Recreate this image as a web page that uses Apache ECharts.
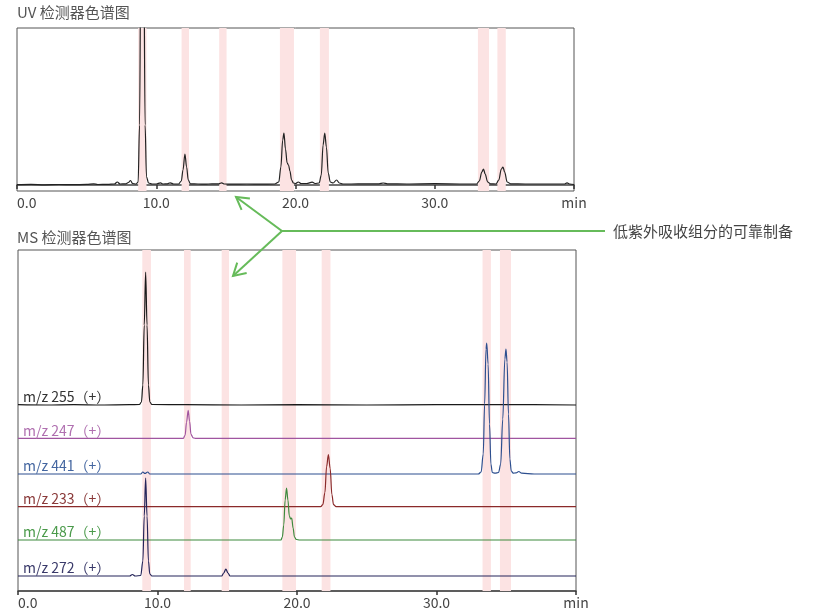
<!DOCTYPE html>
<html><head><meta charset="utf-8">
<script src="https://cdn.jsdelivr.net/npm/echarts@6/dist/echarts.min.js"></script>
<style>html,body{margin:0;padding:0;background:#fff}#c{width:820px;height:614px}</style>
</head><body><div id="c"></div>
<script>
// ---------- data ----------
const xMin = 0, xMax = 40, xInterval = 10;
const uvTitle = 'UV 检测器色谱图';
const msTitle = 'MS 检测器色谱图';
const noteText = '低紫外吸收组分的可靠制备';

// UV trace [min, intensity]
const uvTrace = [[0,0.3],[1,0.6],[2,0.2],[3,0.5],[4,0.3],[5,0.6],[5.5,1.2],[5.8,0.5],[6.5,0.6],[7.0,1],[7.2,3],[7.4,1],[7.8,1.2],[8.0,2.5],[8.15,4.5],[8.3,1.5],[8.55,1],[8.7,3],[8.8,60],[8.9,250],[9.0,420],[9.1,250],[9.2,60],[9.3,8],[9.45,2],[9.7,1],[10.0,1],[10.3,2.2],[10.5,1],[10.8,1.2],[11.0,2.2],[11.25,1],[11.6,1],[11.8,4],[11.92,15],[12.06,31],[12.18,18],[12.3,5],[12.45,1.2],[13,1],[13.5,0.8],[14,1.2],[14.5,1.2],[14.7,2.2],[14.9,1],[15.5,0.8],[16.5,1],[17.5,0.8],[18.5,1],[18.8,3],[18.95,18],[19.08,45],[19.17,52],[19.28,36],[19.4,22],[19.5,20],[19.6,14],[19.72,5],[19.85,2],[20.0,1.5],[20.2,3],[20.4,1.5],[20.8,1.5],[21.2,2.8],[21.4,1.5],[21.7,2],[21.85,10],[21.98,40],[22.1,52],[22.22,38],[22.35,12],[22.5,3],[22.7,2],[22.95,5],[23.15,2],[23.4,1],[24,1],[25,1.2],[26.0,1.2],[26.3,2],[26.6,1.2],[28,1],[30,1.3],[32,1],[33.0,1],[33.2,4],[33.38,13],[33.5,16],[33.62,11],[33.8,3],[34.0,1.2],[34.4,1],[34.6,5],[34.78,16],[34.9,18],[35.02,13],[35.2,3],[35.45,1.2],[36.5,1],[38,1],[39.3,1],[39.5,2.2],[39.7,1],[40,0.5]];

// highlighted fraction windows [start, end] in min
const uvBands = [[8.7,9.3],[11.82,12.35],[14.52,15.05],[18.88,19.89],[21.75,22.4],[33.1,33.9],[34.5,35.1]];
const msBands = [[8.91,9.53],[11.9,12.38],[14.6,15.13],[18.95,19.93],[21.77,22.4],[33.3,33.9],[34.55,35.34]];

// MS extracted ion traces
const msLabels = ['m/z 255（+）','m/z 247（+）','m/z 441（+）','m/z 233（+）','m/z 487（+）','m/z 272（+）'];
const ms255 = [[0,0.3],[2,0],[4,0.4],[6,0],[8,0.3],[8.7,0.5],[8.85,3],[8.95,20],[9.05,80],[9.15,133],[9.25,80],[9.35,20],[9.45,3],[9.6,0.5],[12,0.3],[16,0],[20,0.3],[25,0],[30,0.3],[35,0.5],[40,0]];
const ms247 = [[0,0],[11.85,0],[11.98,3],[12.08,16],[12.2,28],[12.3,17],[12.4,4],[12.55,0.5],[12.7,0],[40,0]];
const ms441 = [[0,0],[8.8,0],[8.95,2],[9.1,0.5],[9.3,2],[9.45,0],[33.0,0],[33.2,2],[33.35,20],[33.45,70],[33.55,125],[33.6,131],[33.7,110],[33.8,50],[33.9,10],[34.0,1.5],[34.2,0.8],[34.45,1.5],[34.6,10],[34.75,55],[34.9,115],[34.98,125],[35.06,112],[35.16,60],[35.26,15],[35.36,3],[35.5,0.8],[35.7,1.2],[35.9,2.5],[36.1,0.8],[37,0],[40,0]];
const ms233 = [[0,0],[21.7,0],[21.85,2],[22.0,14],[22.12,40],[22.25,52],[22.38,38],[22.5,12],[22.62,2],[22.8,0],[40,0]];
const ms487 = [[0,0],[18.85,0],[18.95,3],[19.05,15],[19.15,40],[19.25,52],[19.35,40],[19.45,24],[19.55,21],[19.62,22],[19.72,12],[19.82,3],[19.95,0.5],[20.2,0],[40,0]];
const ms272 = [[0,0],[8.0,0],[8.2,1.5],[8.4,0],[8.8,0.5],[8.95,15],[9.05,60],[9.15,98],[9.25,60],[9.35,15],[9.45,2],[9.6,0],[14.6,0],[14.75,3],[14.9,7],[15.05,3],[15.2,0],[40,0]];

// ---------- layout / style ----------
const msTraces = [ms255, ms247, ms441, ms233, ms487, ms272];
const msOffsets = [186, 152.7, 117, 84.3, 51, 15];
const msLineColors = ['#1a1a1a','#a055a0','#2d4f8f','#8b2a2a','#3d8a3d','#25255a'];
const msTextColors = ['#333333','#b070b0','#4466a0','#8a3a3a','#4a9a4a','#3a3a6a'];
const FONT = '"Noto Sans CJK SC","Noto Sans",sans-serif';
const bandColor = '#fce3e3';
const green = '#66bb5a';

const chart = echarts.init(document.getElementById('c'));

function xAxisCfg(gi){
  return {
    type:'value', gridIndex:gi, min:xMin, max:xMax, interval:xInterval,
    axisLine:{show:true, lineStyle:{color:'#444', width:1.5}},
    axisTick:{show:true, length:4, lineStyle:{color:'#333', width:1.5}},
    splitLine:{show:false},
    axisLabel:{color:'#444', fontSize:14, fontFamily:FONT, margin:5,
      alignMinLabel:'left',
      formatter:v => v === xMax ? 'min' : v.toFixed(1)}
  };
}
function yAxisCfg(gi,min,max){
  return {type:'value', gridIndex:gi, min:min, max:max, show:false, splitLine:{show:false}};
}
function bandSeries(gi, bands){
  return {type:'line', xAxisIndex:gi, yAxisIndex:gi, data:[], silent:true, z:1,
    markArea:{silent:true, itemStyle:{color:bandColor},
      data:bands.map(b=>[{xAxis:b[0]},{xAxis:b[1]}])}};
}

const series = [bandSeries(0, uvBands), bandSeries(1, msBands)];
series.push({type:'line', xAxisIndex:0, yAxisIndex:0, data:uvTrace, showSymbol:false,
  smooth:0.35, smoothMonotone:'x', clip:true, z:3, silent:true,
  lineStyle:{color:'#222', width:1.2}});
msTraces.forEach((tr,i)=>{
  series.push({type:'line', xAxisIndex:1, yAxisIndex:1,
    data:tr.map(p=>[p[0], p[1]+msOffsets[i]]), showSymbol:false,
    smooth:0.35, smoothMonotone:'x', clip:true, z:3, silent:true,
    lineStyle:{color:msLineColors[i], width:1.2}});
});

function arrowHead(tip, from, len, ang){
  const dx = from[0]-tip[0], dy = from[1]-tip[1];
  const d = Math.hypot(dx,dy), ux = dx/d, uy = dy/d;
  const r = a => [tip[0] + len*(ux*Math.cos(a) - uy*Math.sin(a)), tip[1] + len*(ux*Math.sin(a) + uy*Math.cos(a))];
  return [r(ang), tip, r(-ang)];
}
const branch = [282,231], tipTop = [236,197], tipBot = [233,276], lineEnd = [605,231];
const lineStyle = {stroke:green, lineWidth:2, fill:null};

const graphic = [
  {type:'text', x:17, y:12, style:{text:uvTitle, font:'15px '+FONT, fill:'#555', verticalAlign:'middle'}},
  {type:'text', x:17, y:237, style:{text:msTitle, font:'15px '+FONT, fill:'#555', verticalAlign:'middle'}},
  {type:'polyline', shape:{points:[lineEnd, branch, tipTop]}, style:lineStyle, z:10},
  {type:'polyline', shape:{points:[branch, tipBot]}, style:lineStyle, z:10},
  {type:'polyline', shape:{points:arrowHead(tipTop, branch, 14, Math.PI/6)}, style:lineStyle, z:10},
  {type:'polyline', shape:{points:arrowHead(tipBot, branch, 14, Math.PI/6)}, style:lineStyle, z:10},
  {type:'text', x:613, y:231, style:{text:noteText, font:'15px '+FONT, fill:'#444', verticalAlign:'middle'}}
];

chart.setOption({
  animation:false,
  backgroundColor:'#fff',
  textStyle:{fontFamily:FONT},
  grid:[
    {left:17, width:557, top:28, height:163, show:true, borderColor:'#555', borderWidth:1, backgroundColor:'transparent'},
    {left:18, width:558, top:250, height:341, show:true, borderColor:'#555', borderWidth:1, backgroundColor:'transparent'}
  ],
  xAxis:[xAxisCfg(0), xAxisCfg(1)],
  yAxis:[yAxisCfg(0,-6,157), yAxisCfg(1,0,341)],
  series:series,
  graphic:graphic
});

// trace labels positioned through the chart's own scale
const labelGraphics = msLabels.map((t,i)=>{
  const p = chart.convertToPixel({xAxisIndex:1, yAxisIndex:1}, [xMin, msOffsets[i]]);
  return {type:'text', x:p[0]+5, y:p[1]-8, z:12,
    style:{text:t, font:'14px '+FONT, fill:msTextColors[i], verticalAlign:'middle'}};
});
chart.setOption({graphic: graphic.concat(labelGraphics)});
</script>
</body></html>
